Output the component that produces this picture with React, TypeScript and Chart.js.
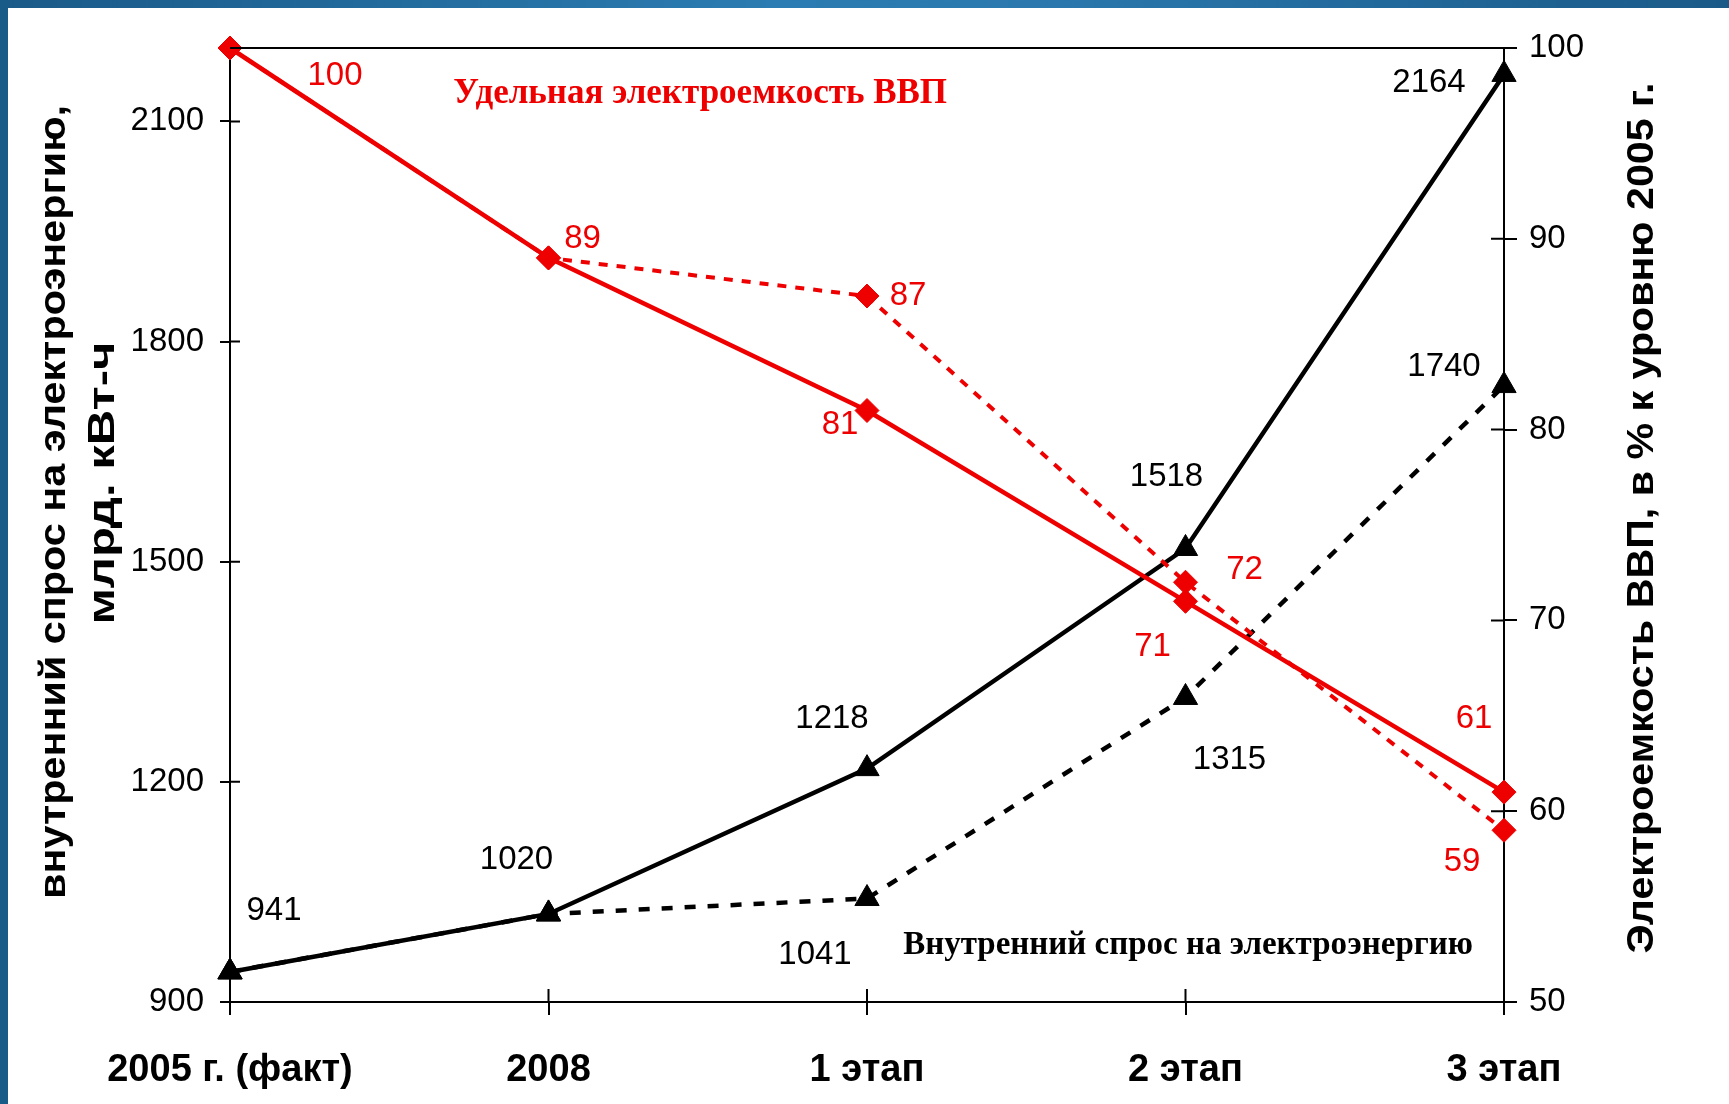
import React, { useEffect, useRef } from "react";
import { Chart, registerables } from "chart.js";

Chart.register(...registerables);

// ---- data ----
const categories = ["2005 г. (факт)", "2008", "1 этап", "2 этап", "3 этап"];
const demandBase = [941, 1020, 1218, 1518, 2164];
const demandAlt = [941, 1020, 1041, 1315, 1740];
const intensityBase = [100, 89, 81, 71, 61];
const intensityAlt = [100, 89, 87, 72, 59];
const leftTicks = [900, 1200, 1500, 1800, 2100];
const rightTicks = [50, 60, 70, 80, 90, 100];
const leftRange = [900, 2200];
const rightRange = [50, 100];

const leftTitleLines = ["внутренний спрос на электроэнергию,", "млрд. кВт-ч"];
const rightTitle = "Электроемкость ВВП, в % к уровню 2005 г.";
const redNote = "Удельная электроемкость ВВП";
const blackNote = "Внутренний спрос на электроэнергию";

// ---- styling (label offsets in px relative to points) ----
const demandBaseOff = [[44, -61], [-32, -54], [-35, -50], [-19, -72], [-75, 8]];
const demandAltOff = [null, null, [-52, 56], [44, 62], [-60, -19]];
const intensityBaseOff = [[105, 28], [34, -19], [-27, 14], [-33, 46], [-30, -73]];
const intensityAltOff = [null, null, [41, 0], [59, -12], [-42, 32]];

const SANS = "'Liberation Sans', Arial, sans-serif";
const SERIF = "'Liberation Serif', 'Times New Roman', serif";
const RED = "#ee0000";

export default function App() {
  const ref = useRef<HTMLCanvasElement | null>(null);

  useEffect(() => {
    if (!ref.current) return;
    const offsets = [intensityBaseOff, intensityAltOff, demandBaseOff, demandAltOff];
    const labelColors = [RED, RED, "#000", "#000"];

    const labelPlugin = {
      id: "pointLabels",
      afterDatasetsDraw(chart: any) {
        const ctx = chart.ctx;
        ctx.save();
        ctx.font = `33px ${SANS}`;
        ctx.textAlign = "center";
        ctx.textBaseline = "middle";
        chart.data.datasets.forEach((ds: any, i: number) => {
          const meta = chart.getDatasetMeta(i);
          ds.data.forEach((v: number, j: number) => {
            const off = offsets[i][j];
            if (!off || v == null) return;
            const pt = meta.data[j];
            ctx.fillStyle = labelColors[i];
            ctx.fillText(String(v), pt.x + off[0], pt.y + off[1]);
          });
        });
        ctx.restore();
      },
    };

    const framePlugin = {
      id: "frameAndText",
      afterDraw(chart: any) {
        const ctx = chart.ctx;
        const a = chart.chartArea;
        const sx = chart.scales.x;
        const sy = chart.scales.y;
        const sy1 = chart.scales.y1;
        ctx.save();
        ctx.strokeStyle = "#000";
        ctx.lineWidth = 2;
        // top border
        ctx.beginPath();
        ctx.moveTo(a.left, a.top);
        ctx.lineTo(a.right, a.top);
        ctx.stroke();
        // inner tick halves
        ctx.beginPath();
        sy.ticks.forEach((t: any) => {
          const y = sy.getPixelForValue(t.value);
          ctx.moveTo(a.left, y);
          ctx.lineTo(a.left + 10, y);
        });
        sy1.ticks.forEach((t: any) => {
          const y = sy1.getPixelForValue(t.value);
          ctx.moveTo(a.right - 13, y);
          ctx.lineTo(a.right, y);
        });
        categories.forEach((_c, i) => {
          const x = sx.getPixelForValue(i);
          ctx.moveTo(x, a.bottom - 13);
          ctx.lineTo(x, a.bottom);
        });
        ctx.stroke();

        // notes
        const w = a.right - a.left;
        const h = a.bottom - a.top;
        ctx.textAlign = "center";
        ctx.textBaseline = "middle";
        ctx.font = `bold 35px ${SERIF}`;
        ctx.fillStyle = RED;
        ctx.fillText(redNote, a.left + w * 0.369, a.top + h * 0.048);
        ctx.fillStyle = "#000";
        ctx.font = `bold 33px ${SERIF}`;
        ctx.fillText(blackNote, a.left + w * 0.752, a.top + h * 0.941);

        // axis titles (stretched along their length to the measured span)
        ctx.font = `bold 37px ${SANS}`;
        const titles = [
          { text: leftTitleLines[0], x: 55, y: 502, len: 794 },
          { text: leftTitleLines[1], x: 104, y: 483, len: 283 },
          { text: rightTitle, x: 1643, y: 518, len: 871 },
        ];
        titles.forEach((t) => {
          const m = ctx.measureText(t.text).width;
          ctx.save();
          ctx.translate(t.x, t.y);
          ctx.rotate(-Math.PI / 2);
          ctx.scale(t.len / m, 1);
          ctx.fillText(t.text, 0, 0);
          ctx.restore();
        });
        ctx.restore();
      },
    };

    const chart = new Chart(ref.current, {
      type: "line",
      data: {
        labels: categories,
        datasets: [
          {
            data: intensityBase,
            yAxisID: "y1",
            borderColor: RED,
            backgroundColor: RED,
            borderWidth: 4.5,
            pointStyle: "rectRot",
            pointRadius: 12,
            pointBorderWidth: 1,
            tension: 0,
            clip: false,
          },
          {
            data: intensityAlt,
            yAxisID: "y1",
            borderColor: RED,
            backgroundColor: RED,
            borderWidth: 4,
            borderDash: [9, 9],
            pointStyle: "rectRot",
            pointRadius: 12,
            pointBorderWidth: 1,
            tension: 0,
            clip: false,
          },
          {
            data: demandBase,
            yAxisID: "y",
            borderColor: "#000",
            backgroundColor: "#000",
            borderWidth: 4.5,
            pointStyle: "triangle",
            pointRadius: 14,
            pointBorderWidth: 1,
            tension: 0,
            clip: false,
          },
          {
            data: demandAlt,
            yAxisID: "y",
            borderColor: "#000",
            backgroundColor: "#000",
            borderWidth: 4.5,
            borderDash: [11, 12],
            pointStyle: "triangle",
            pointRadius: 14,
            pointBorderWidth: 1,
            tension: 0,
            clip: false,
          },
        ],
      },
      options: {
        animation: false,
        responsive: false,
        events: [],
        layout: { padding: { top: 48, left: 0, right: 0, bottom: 0 } },
        plugins: {
          legend: { display: false },
          tooltip: { enabled: false },
          title: { display: false },
        },
        scales: {
          x: {
            type: "category",
            offset: false,
            grid: { display: true, drawOnChartArea: false, drawTicks: true, tickLength: 13, color: "#000", lineWidth: 2 },
            border: { color: "#000", width: 2 },
            ticks: {
              color: "#000",
              font: { family: SANS, size: 38, weight: "bold" },
              padding: 33,
              maxRotation: 0,
              autoSkip: false,
            },
            afterFit: (s: any) => {
              s.height = 102;
            },
          },
          y: {
            position: "left",
            min: leftRange[0],
            max: leftRange[1],
            afterBuildTicks: (s: any) => {
              s.ticks = leftTicks.map((v) => ({ value: v }));
            },
            grid: { display: true, drawOnChartArea: false, drawTicks: true, tickLength: 10, color: "#000", lineWidth: 2 },
            border: { color: "#000", width: 2 },
            ticks: {
              color: "#000",
              font: { family: SANS, size: 33 },
              padding: 16,
              callback: (v: any) => String(v),
            },
            afterFit: (s: any) => {
              s.width = 230;
            },
          },
          y1: {
            position: "right",
            min: rightRange[0],
            max: rightRange[1],
            afterBuildTicks: (s: any) => {
              s.ticks = rightTicks.map((v) => ({ value: v }));
            },
            grid: { display: true, drawOnChartArea: false, drawTicks: true, tickLength: 13, color: "#000", lineWidth: 2 },
            border: { color: "#000", width: 2 },
            ticks: {
              color: "#000",
              font: { family: SANS, size: 33 },
              padding: 12,
              callback: (v: any) => String(v),
            },
            afterFit: (s: any) => {
              s.width = 225;
            },
          },
        },
      } as any,
      plugins: [labelPlugin, framePlugin],
    });
    return () => chart.destroy();
  }, []);

  return (
    <div
      style={{
        position: "fixed",
        left: 0,
        top: 0,
        width: 1729,
        height: 1104,
        background: "#fff",
        overflow: "hidden",
      }}
    >
      <canvas ref={ref} width={1729} height={1104} style={{ position: "absolute", left: 0, top: 0 }} />
      <div
        style={{
          position: "absolute",
          left: 0,
          top: 0,
          width: 1729,
          height: 8,
          background: "linear-gradient(to right, #1a5a88 0%, #2b7cb2 45%, #2a78ae 60%, #1a5a88 100%)",
        }}
      />
      <div style={{ position: "absolute", left: 0, top: 0, width: 8, height: 1104, background: "#185a88" }} />
    </div>
  );
}
